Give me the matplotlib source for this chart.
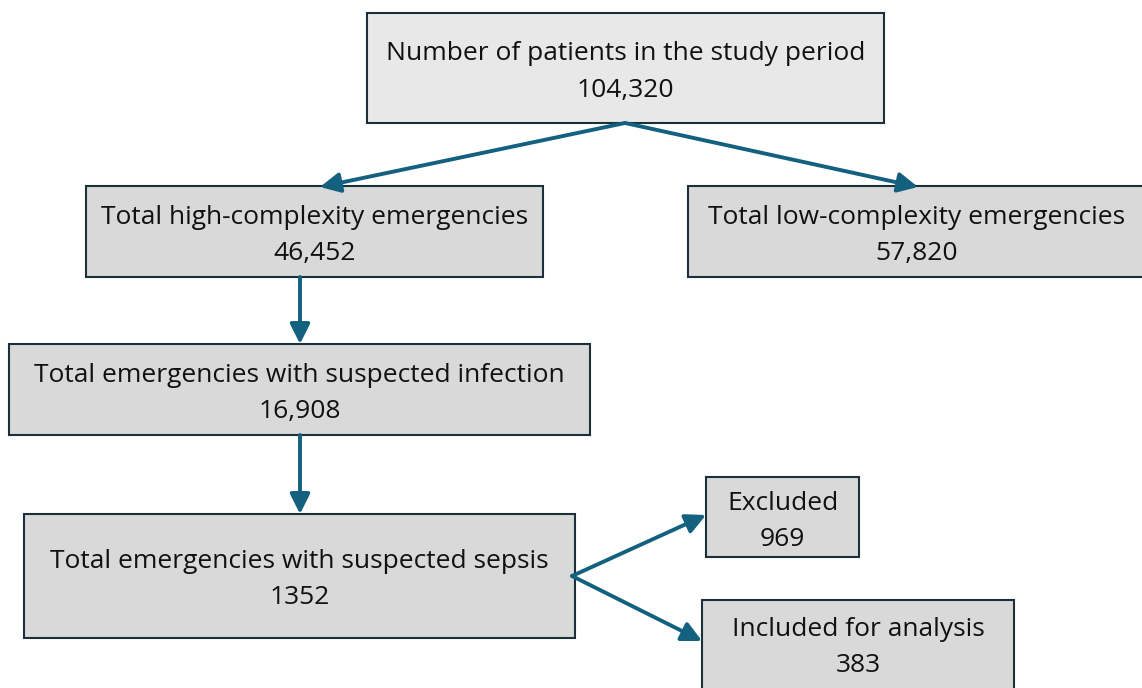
import matplotlib.pyplot as plt
from matplotlib.patches import Rectangle, FancyArrowPatch

# flowchart content
labels = [
    "Number of patients in the study period",
    "Total high-complexity emergencies",
    "Total low-complexity emergencies",
    "Total emergencies with suspected infection",
    "Total emergencies with suspected sepsis",
    "Excluded",
    "Included for analysis",
]
counts = ["104,320", "46,452", "57,820", "16,908", "1352", "969", "383"]

# box layout in pixels: left, top, right, bottom
boxes = [
    (367, 13, 884, 123),
    (86, 186, 543, 277),
    (688, 186, 1146, 277),
    (9, 344, 590, 435),
    (24, 514, 575, 638),
    (706, 477, 859, 557),
    (702, 600, 1014, 692),
]
fills = ["#e8e8e8", "#d9d9d9", "#d9d9d9", "#d9d9d9", "#d9d9d9", "#d9d9d9", "#d9d9d9"]

# arrows: start -> end
arrows = [
    ((625, 123), (320, 187)),
    ((625, 123), (918, 187)),
    ((300, 277), (300, 344)),
    ((300, 435), (300, 514)),
    ((572, 576), (706, 515)),
    ((572, 576), (702, 641)),
]

edge = "#1c2f3a"
arrow_color = "#14607f"

fig = plt.figure(figsize=(11.42, 6.88), dpi=100)
ax = fig.add_axes([0, 0, 1, 1])
ax.set_xlim(0, 1142)
ax.set_ylim(688, 0)
ax.axis("off")

for (l, t, r, b), fill, lab, n in zip(boxes, fills, labels, counts):
    ax.add_patch(Rectangle((l, t), r - l, b - t, facecolor=fill,
                           edgecolor=edge, linewidth=1.5, zorder=1))
    cx = (l + r) / 2
    if r > 1142:
        cx = (l + 1142) / 2 + 2
    cy = (t + b) / 2
    if b > 688:
        cy = (t + b) / 2 - 2
    ax.text(cx, cy - 14, lab, ha="center", va="center", fontsize=19,
            family="Open Sans", color="#111111", zorder=3)
    ax.text(cx, cy + 22, n, ha="center", va="center", fontsize=19,
            family="Open Sans", color="#111111", zorder=3)

for start, end in arrows:
    ax.add_patch(FancyArrowPatch(start, end, arrowstyle="-|>,head_length=8,head_width=4",
                                 mutation_scale=1.5, color=arrow_color,
                                 linewidth=2.8, shrinkA=0, shrinkB=0, zorder=2))

fig.savefig("out.png", dpi=100)
